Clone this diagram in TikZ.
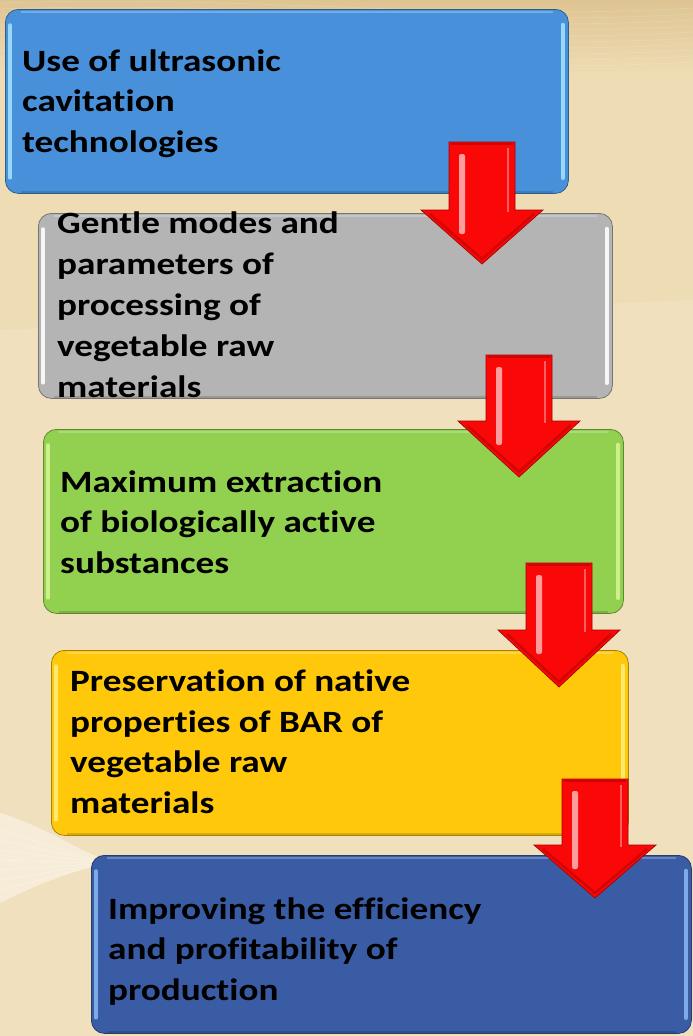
\documentclass[tikz,border=0pt]{standalone}
\usepackage{fontspec}
\newfontfamily\panelfont{Carlito}[FakeStretch=1.2, Ligatures=NoCommon]
\usetikzlibrary{calc}

% palette
\definecolor{bgTan}{RGB}{238,220,180}
\definecolor{bgTop}{RGB}{222,196,146}
\definecolor{bgLight}{RGB}{244,233,210}
\definecolor{pBlue}{RGB}{72,145,218}
\definecolor{pBlueEdge}{RGB}{150,215,250}
\definecolor{pGray}{RGB}{180,180,180}
\definecolor{pGrayEdge}{RGB}{246,246,246}
\definecolor{pGreen}{RGB}{146,208,80}
\definecolor{pGreenEdge}{RGB}{205,240,140}
\definecolor{pYellow}{RGB}{255,200,10}
\definecolor{pYellowEdge}{RGB}{255,232,110}
\definecolor{pNavy}{RGB}{58,92,165}
\definecolor{pNavyEdge}{RGB}{125,170,232}
\definecolor{arrowRed}{RGB}{250,8,8}
\definecolor{arrowDark}{RGB}{165,0,0}

\tikzset{
  panel/.style={fill=#1, draw=#1!65!black, line width=0.8pt, rounded corners=13pt,
    anchor=north west, inner sep=0pt},
  caption/.style={font=\panelfont\bfseries\fontsize{31}{40.5}\selectfont,
    align=left, anchor=base west, inner sep=0pt, text=black},
}

% glossy side edges of a panel: #1 node name, #2 edge colour
\newcommand\panelbevel[2]{%
  \draw[#2, line width=3.5pt, line cap=round] ($(#1.north west)+(5,16)$) -- ($(#1.south west)+(5,-16)$);
  \draw[#2, line width=4.5pt, line cap=round] ($(#1.north east)+(-6,16)$) -- ($(#1.south east)+(-6,-16)$);
  \draw[white, opacity=.25, line width=2pt] ($(#1.north west)+(16,3)$) -- ($(#1.north east)+(-16,3)$);
  \draw[black, opacity=.15, line width=2pt] ($(#1.south west)+(16,-2)$) -- ($(#1.south east)+(-16,-2)$);
}

% red block arrow pointing down: #1 name, #2 centre x, #3 top, #4 head base, #5 tip
\newcommand\downblock[5]{%
  \coordinate (#1-top) at (#2,#3);
  \coordinate (#1-tip) at (#2,#5);
  \fill[arrowRed] (#2-33,#3) -- (#2+33,#3) -- (#2+33,#4) -- (#2+61,#4) -- (#1-tip)
    -- (#2-61,#4) -- (#2-33,#4) -- cycle;
  \draw[arrowDark, line width=2.5pt, opacity=.45] (#2-52,#4+4) -- (#2,#5-5) -- (#2+52,#4+4);
  \draw[arrowDark, line width=2pt, opacity=.5] (#2-31,#3+2) -- (#2+31,#3+2);
  \fill[white, opacity=.6, rounded corners=2pt] (#2-23,#3+12) rectangle (#2-17,#4+24);
  \draw[white, opacity=.35, line width=1.5pt] (#2+26,#3+6) -- (#2+26,#4+2);
  \draw[arrowDark, line width=0.7pt] (#2-33,#3) -- (#2+33,#3) -- (#2+33,#4) -- (#2+61,#4)
    -- (#1-tip) -- (#2-61,#4) -- (#2-33,#4) -- cycle;
}

\begin{document}
\begin{tikzpicture}[x=1pt,y=-1pt]
\useasboundingbox (0,0) rectangle (693,1036);

% backdrop
\fill[bgTan] (0,0) rectangle (693,1036);
\shade[top color=bgTop, bottom color=bgTan] (0,0) rectangle (693,75);
\foreach \k in {0,...,9}
  \draw[white, opacity=.13, line width=0.8pt]
    (0,3+6*\k) .. controls (250,-6+6*\k) and (450,22+6*\k) .. (693,8+6*\k);
\fill[bgLight, opacity=.35] (0,330) -- (693,300) -- (693,1036) -- (0,1036) -- cycle;
\fill[white, opacity=.4] (0,813) .. controls (40,825) and (70,845) .. (96,856)
  -- (96,866) .. controls (60,875) and (30,888) .. (0,903) -- cycle;
\foreach \k in {0,...,6}
  \draw[white, opacity=.35, line width=0.6pt] (0,830+10*\k) -- (94,860+\k);

% panels
\node[panel=pBlue,   minimum width=563pt, minimum height=184pt] (b1) at (5,9) {};
\node[panel=pGray,   minimum width=574pt, minimum height=185pt] (b2) at (38,213) {};
\node[panel=pGreen,  minimum width=580pt, minimum height=184pt] (b3) at (43,429) {};
\node[panel=pYellow, minimum width=577pt, minimum height=185pt] (b4) at (51,650) {};
\node[panel=pNavy,   minimum width=600pt, minimum height=178pt] (b5) at (91,855) {};
\panelbevel{b1}{pBlueEdge}
\panelbevel{b2}{pGrayEdge}
\panelbevel{b3}{pGreenEdge}
\panelbevel{b4}{pYellowEdge}
\panelbevel{b5}{pNavyEdge}

% captions (anchored at the baseline of their last line)
\node[caption] (t1) at (22,152) {Use of ultrasonic\\cavitation\\technologies};
\node[caption, font=\panelfont\bfseries\fontsize{31}{41}\selectfont] (t2) at (57,397)
  {Gentle modes and\\parameters of\\processing of\\vegetable raw\\materials};
\node[caption] (t3) at (60,573) {Maximum extraction\\of biologically active\\substances};
\node[caption] (t4) at (70,813) {Preservation of native\\properties of BAR of\\vegetable raw\\materials};
\node[caption] (t5) at (108,1000) {Improving the efficiency\\and profitability of\\production};

% arrows between consecutive panels
\downblock{a1}{482}{142}{210}{264}
\downblock{a2}{519}{355}{421}{477}
\downblock{a3}{559}{563}{630}{687}
\downblock{a4}{595}{779}{845}{898}
\end{tikzpicture}
\end{document}
